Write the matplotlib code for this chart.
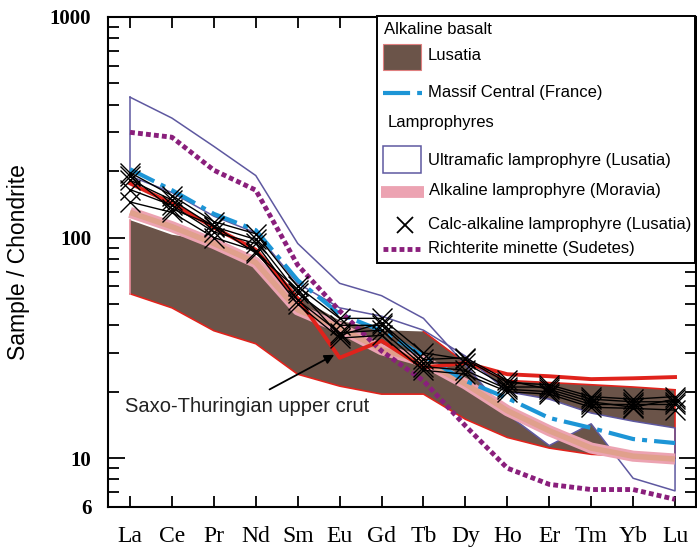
import matplotlib
matplotlib.use('Agg')
import matplotlib.pyplot as plt
import numpy as np
from matplotlib.patches import Rectangle
from matplotlib.lines import Line2D
from matplotlib.ticker import FixedLocator, NullFormatter

# ---------------- data (Sample / Chondrite) ----------------
REE = ['La', 'Ce', 'Pr', 'Nd', 'Sm', 'Eu', 'Gd', 'Tb', 'Dy', 'Ho', 'Er', 'Tm', 'Yb', 'Lu']

lusatia_upper = [120, 103, 96, 82, 54, 42, 38, 37.5, 27, 22.5, 22, 21.5, 21, 20.4]
lusatia_lower = [55.6, 48, 37.8, 33, 24, 21.2, 19.5, 19.5, 15, 12.4, 11.1, 10.4, 10.2, 10.0]

massif_central = [204, 164, 128, 108, 64, 45, 37.8, 29, 22.4, 18.7, 15.2, 13.7, 12.2, 11.7]

ultramafic_upper = [433, 348, 259, 191, 94, 62, 54.5, 43, 26.5, 15.8, 11.4, 14.3, 8.1, 7.1]
ultramafic_lower = [190, 160, 125, 105, 62, 48, 44, 38, 29, 20, 18.5, 16, 14.7, 13.7]

alk_lamp_moravia = [130, 112, 94, 77, 47, 39, 31, 27.5, 21.7, 16.4, 13.3, 11.1, 10.2, 9.9]

richterite_minette = [300, 285, 202, 164, 75, 46.5, 30.6, 22.4, 14, 9.0, 7.6, 7.2, 7.2, 6.5]

saxo_thuringian = [176, 143, 111, 88, 53, 28.5, 34, 25.7, 27, 24, 23.5, 22.8, 23, 23.3]

calc_alk_1 = [197, 155, 118, 104, 60, 43, 43, 30, 28, 22, 21.5, 19, 18.5, 19]
calc_alk_2 = [182, 148, 112, 98, 56, 40, 40, 27, 27, 21, 21, 18.5, 18, 18]
calc_alk_3 = [165, 140, 106, 94, 52, 37, 38, 26, 25, 20.5, 20, 17.5, 17.5, 17.5]
calc_alk_4 = [145, 130, 100, 87, 50, 35, 36, 25, 24, 20, 19.5, 17, 16.8, 16.5]
calc_alk_5 = [190, 135, 113, 85, 58, 36, 41, 28, 28.5, 22.5, 20.5, 18, 17, 18.5]
calc_alk = [calc_alk_1, calc_alk_2, calc_alk_3, calc_alk_4, calc_alk_5]

y_ticks = [6, 10, 100, 1000]
y_tick_labels = ['6', '10', '100', '1000']

# ---------------- styling ----------------
SANS = ['Liberation Sans', 'DejaVu Sans']
SERIF = ['Liberation Serif', 'DejaVu Serif']
BROWN = '#6b5449'
RED = '#e0231c'
BLUE = '#1d95d6'
PURPLE = '#8a1f7c'
UMAF = '#5e58a0'
PINK = '#eca3b2'
SALMON = '#e0a08c'

W, H = 697, 550
fig = plt.figure(figsize=(W / 100, H / 100), dpi=100)
ax = fig.add_axes([108 / W, 1 - 507 / H, (696 - 108) / W, (507 - 17) / H])

x = np.arange(len(REE))

# Lusatia alkaline basalt field
ax.fill_between(x, lusatia_lower, lusatia_upper, facecolor=BROWN, edgecolor='none', zorder=1)

# Ultramafic lamprophyre field (white fill, purple edge)
ux = np.concatenate([x, x[::-1]])
uy = np.concatenate([ultramafic_upper, ultramafic_lower[::-1]])
ax.fill(ux, uy, facecolor='white', edgecolor='none', zorder=2)

# brown field edges
ax.plot(x, lusatia_lower, color=RED, lw=1.2, zorder=3)
ax.plot(x[7:], lusatia_upper[7:], color=RED, lw=1.2, zorder=3)
ax.plot([x[-1], x[-1]], [lusatia_lower[-1], lusatia_upper[-1]], color=RED, lw=1.2, zorder=3)
ax.plot([x[0], x[0]], [lusatia_lower[0], lusatia_upper[0]], color='#e88a9a', lw=1.2, zorder=3)

ax.plot(ux, uy, color=UMAF, lw=1.1, zorder=3)
ax.plot([x[0], x[0]], [ultramafic_lower[0], ultramafic_upper[0]], color=UMAF, lw=1.1, zorder=3)

# Alkaline lamprophyre (Moravia)
ax.plot(x, alk_lamp_moravia, color=PINK, lw=8, solid_capstyle='butt', zorder=4)
ax.plot(x, alk_lamp_moravia, color=SALMON, lw=4, solid_capstyle='butt', zorder=4)

# Massif Central
ax.plot(x, massif_central, color=BLUE, lw=3, dashes=(6.5, 1.7, 1.2, 1.7), zorder=5)

# Richterite minette
ax.plot(x, richterite_minette, color=PURPLE, lw=3.5, dashes=(1.0, 0.65), zorder=5)

# Saxo-Thuringian upper crust
ax.plot(x, saxo_thuringian, color=RED, lw=2.8, zorder=6)

# Calc-alkaline lamprophyres
for s in calc_alk:
    ax.plot(x, s, color='black', lw=1.0, marker='x', ms=15, mew=1.0, zorder=7)

ax.set_yscale('log')
ax.set_xlim(-0.525, 13.5)
ax.set_ylim(6, 1000)

ax.yaxis.set_major_locator(FixedLocator(y_ticks))
ax.set_yticklabels(y_tick_labels, fontfamily=SERIF, fontweight='bold', fontsize=15)
minor = [v * d for d in (1, 10, 100) for v in range(2, 10) if 6 <= v * d <= 1000 and v * d not in y_ticks]
ax.yaxis.set_minor_locator(FixedLocator(minor))
ax.yaxis.set_minor_formatter(NullFormatter())
ax.set_xticks(x)
ax.set_xticklabels(REE, fontfamily=SERIF, fontsize=17)

ax.tick_params(axis='y', which='major', direction='in', length=12, width=1.3, left=True, right=True, pad=12)
ax.tick_params(axis='y', which='minor', direction='in', length=8, width=1.3, left=True, right=True)
ax.tick_params(axis='x', which='major', direction='in', length=8, width=1.3, top=True, bottom=True, pad=14)
for sp in ax.spines.values():
    sp.set_linewidth(1.5)

ax.set_ylabel('Sample / Chondrite', fontfamily=SANS, fontsize=16.5, labelpad=14)

# annotation
ax.text(-0.12, 17.2, 'Saxo-Thuringian upper crut', fontfamily=SANS, fontsize=14.5, color='#222222',
        va='center', ha='left', zorder=8)
ax.annotate('', xy=(4.93, 29.8), xytext=(3.27, 20.2),
            arrowprops=dict(arrowstyle='-|>', color='black', lw=1.3, mutation_scale=14), zorder=8)

# ---------------- legend (drawn in figure pixels) ----------------
def fx(px):
    return px / W

def fy(py):
    return 1 - py / H

T = fig.transFigure
fig.add_artist(Rectangle((fx(377), fy(263)), fx(695) - fx(377), fy(16) - fy(263), transform=T,
                         facecolor='white', edgecolor='black', lw=1.4, zorder=10))
LS = dict(fontfamily=SANS, fontsize=12, va='center', ha='left', zorder=11, transform=T)
fig.text(fx(384), fy(30), 'Alkaline basalt', **LS)
fig.add_artist(Rectangle((fx(383), fy(70)), fx(421) - fx(383), fy(44) - fy(70), transform=T,
                         facecolor=BROWN, edgecolor='#e08080', lw=0.8, zorder=11))
fig.text(fx(428), fy(55), 'Lusatia', **LS)
fig.add_artist(Line2D([fx(383), fx(422)], [fy(93), fy(93)], color=BLUE, lw=3,
                      dashes=(6.5, 1.7, 1.2, 1.7), transform=T, zorder=11))
fig.text(fx(428), fy(93), 'Massif Central (France)', **LS)
fig.text(fx(388), fy(123), 'Lamprophyres', **LS)
fig.add_artist(Rectangle((fx(383), fy(173)), fx(421) - fx(383), fy(146) - fy(173), transform=T,
                         facecolor='white', edgecolor=UMAF, lw=1.1, zorder=11))
fig.text(fx(428), fy(160), 'Ultramafic lamprophyre (Lusatia)', **LS)
fig.add_artist(Line2D([fx(381), fx(424)], [fy(192), fy(192)], color=PINK, lw=8.5,
                      solid_capstyle='butt', transform=T, zorder=11))
fig.text(fx(429), fy(191), 'Alkaline lamprophyre (Moravia)', **LS)
fig.add_artist(Line2D([fx(405)], [fy(225)], color='black', marker='x', ms=11, mew=1.3,
                      linestyle='none', transform=T, zorder=11))
fig.text(fx(428), fy(224), 'Calc-alkaline lamprophyre (Lusatia)', **LS)
fig.add_artist(Line2D([fx(383), fx(421)], [fy(249), fy(249)], color=PURPLE, lw=3.5,
                      dashes=(1.0, 0.65), transform=T, zorder=11))
fig.text(fx(428), fy(248), 'Richterite minette (Sudetes)', **LS)

fig.savefig('out.png', dpi=100)
